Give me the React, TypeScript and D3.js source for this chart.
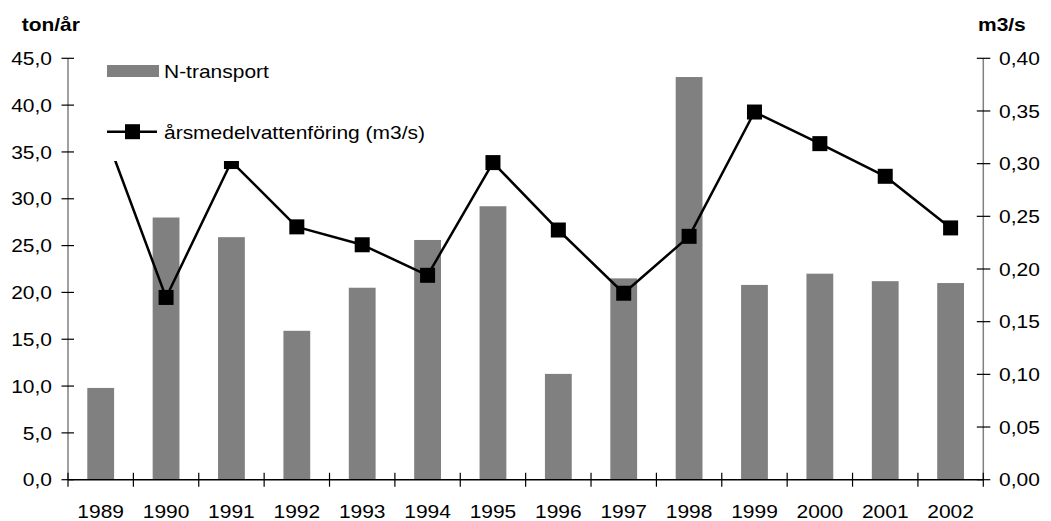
import React from "react";
import * as d3 from "d3";

// Yearly nitrogen transport (ton/år) and mean annual discharge (m3/s)
const years = ["1989", "1990", "1991", "1992", "1993", "1994", "1995", "1996", "1997", "1998", "1999", "2000", "2001", "2002"];
const nTransport = [9.8, 28.0, 25.9, 15.9, 20.5, 25.6, 29.2, 11.3, 21.5, 43.0, 20.8, 22.0, 21.2, 21.0];
const discharge = [0.34, 0.173, 0.302, 0.240, 0.223, 0.194, 0.301, 0.237, 0.177, 0.231, 0.349, 0.319, 0.288, 0.239];
const leftTicks = [0, 5, 10, 15, 20, 25, 30, 35, 40, 45];
const rightTicks = [0, 0.05, 0.1, 0.15, 0.2, 0.25, 0.3, 0.35, 0.4];

const W = 1051;
const H = 521;
const plot = { left: 68, right: 983.3, top: 58.3, bottom: 479.7 };
const FS = 18.4;
const SX = 1.14;
const FONT = "'Liberation Sans', Arial, sans-serif";
const BAR = "#808080";

function Txt({ x, y, anchor = "start", bold = false, children }: { x: number; y: number; anchor?: string; bold?: boolean; children: React.ReactNode }) {
  return (
    <text
      transform={`translate(${x},${y}) scale(${SX},1)`}
      textAnchor={anchor}
      fontFamily={FONT}
      fontSize={FS}
      fontWeight={bold ? "bold" : "normal"}
      fill="#000"
    >
      {children}
    </text>
  );
}

const fmt1 = (v: number) => v.toFixed(1).replace(".", ",");
const fmt2 = (v: number) => v.toFixed(2).replace(".", ",");

export default function App() {
  const x = d3
    .scaleBand<string>()
    .domain(years)
    .range([plot.left, plot.right])
    .paddingInner(0.59)
    .paddingOuter(0.295);
  const yL = d3.scaleLinear().domain([0, 45]).range([plot.bottom, plot.top]);
  const yR = d3.scaleLinear().domain([0, 0.4]).range([plot.bottom, plot.top]);
  const step = x.step();
  const cx = (yr: string) => (x(yr) as number) + x.bandwidth() / 2;

  const line = d3
    .line<number>()
    .x((_, i) => cx(years[i]))
    .y((d) => yR(d));

  const mid = FS * 0.36;
  const boundaries = d3.range(years.length + 1).map((i) => plot.left + i * step);
  const M = 15;

  return (
    <svg width={W} height={H} style={{ position: "absolute", left: 0, top: 0, background: "#fff" }}>
      <rect width={W} height={H} fill="#fff" />

      {/* bars */}
      {nTransport.map((v, i) => (
        <rect key={years[i]} x={x(years[i])} y={yL(v)} width={x.bandwidth()} height={yL(0) - yL(v)} fill={BAR} />
      ))}

      {/* discharge line */}
      <path d={line(discharge) || ""} fill="none" stroke="#000" strokeWidth={2.5} strokeLinejoin="round" />
      {discharge.map((v, i) => (
        <rect key={"m" + years[i]} x={cx(years[i]) - M / 2} y={yR(v) - M / 2} width={M} height={M} fill="#000" />
      ))}

      {/* legend */}
      <rect x={88} y={40} width={360} height={121} fill="#fff" />
      <rect x={107} y={65} width={52} height={12} fill={BAR} />
      <Txt x={164} y={71.5 + mid}>N-transport</Txt>
      <line x1={107} x2={157} y1={131.7} y2={131.7} stroke="#000" strokeWidth={2.5} />
      <rect x={132.5 - M / 2} y={131.7 - M / 2} width={M} height={M} fill="#000" />
      <Txt x={164} y={132 + mid}>årsmedelvattenföring (m3/s)</Txt>

      {/* left axis */}
      <line x1={plot.left} x2={plot.left} y1={plot.top} y2={plot.bottom} stroke="#808080" strokeWidth={1.5} />
      {leftTicks.map((t) => (
        <g key={"l" + t}>
          <line x1={plot.left - 6.5} x2={plot.left + 6} y1={yL(t)} y2={yL(t)} stroke="#000" strokeWidth={1.2} />
          <Txt x={52} y={yL(t) + mid} anchor="end">{fmt1(t)}</Txt>
        </g>
      ))}

      {/* right axis */}
      <line x1={plot.right} x2={plot.right} y1={plot.top} y2={plot.bottom} stroke="#808080" strokeWidth={1.5} />
      {rightTicks.map((t) => (
        <g key={"r" + t}>
          <line x1={plot.right - 6.5} x2={plot.right + 7} y1={yR(t)} y2={yR(t)} stroke="#000" strokeWidth={1.2} />
          <Txt x={999} y={yR(t) + mid}>{fmt2(t)}</Txt>
        </g>
      ))}

      {/* category axis */}
      <line x1={plot.left} x2={plot.right} y1={plot.bottom} y2={plot.bottom} stroke="#000" strokeWidth={1.5} />
      {boundaries.map((b, i) => (
        <line key={"b" + i} x1={b} x2={b} y1={plot.bottom - 7} y2={plot.bottom + 7} stroke="#000" strokeWidth={1.2} />
      ))}
      {years.map((yr) => (
        <Txt key={"t" + yr} x={cx(yr)} y={517.5} anchor="middle">{yr}</Txt>
      ))}

      {/* axis titles */}
      <Txt x={21.7} y={30.5} bold>ton/år</Txt>
      <Txt x={978} y={30.5} bold>m3/s</Txt>
    </svg>
  );
}
